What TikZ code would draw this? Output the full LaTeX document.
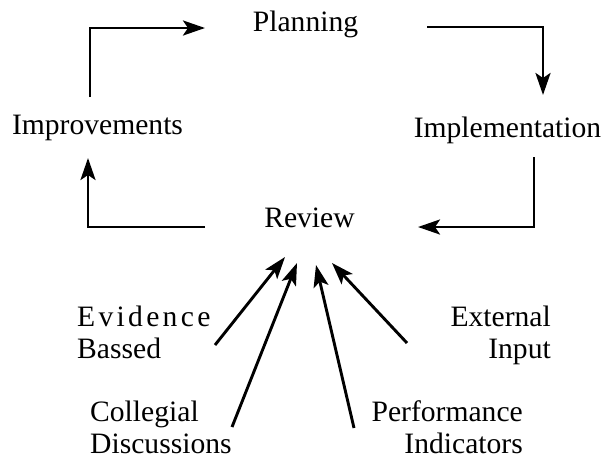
\documentclass[tikz,border=0pt]{standalone}
\usepackage{fontspec}
\setmainfont{Liberation Serif}
\usetikzlibrary{arrows.meta}

\tikzset{
  lbl/.style={font=\fontsize{29.6}{31.5}\selectfont, inner sep=0pt},
  flow/.style={line width=2.9pt, -{Stealth[length=22pt,width=15pt,inset=5pt]}}
}
\newcommand{\lsp}{\kern3.3pt}

\begin{document}
\begin{tikzpicture}[x=1pt,y=-1pt]
\useasboundingbox (0,0) rectangle (604,459);
% cycle stages
\node[lbl, anchor=base] (plan) at (305.5,31) {Planning};
\node[lbl, anchor=base] (impl) at (507.5,137) {Implementation};
\node[lbl, anchor=base] (rev) at (309.5,227) {Review};
\node[lbl, anchor=base] (impr) at (97.5,134) {Improvements};
% inputs to the review (base = last line)
\node[lbl, anchor=base west, align=left] (evid) at (77,358) {E\lsp v\lsp i\lsp d\lsp e\lsp n\lsp c\lsp e\\Bassed};
\node[lbl, anchor=base west, align=left] (coll) at (90,453) {Collegial\\Discussions};
\node[lbl, anchor=base east, align=right] (perf) at (523,453) {Performance\\Indicators};
\node[lbl, anchor=base east, align=right] (ext) at (551,358) {External\\Input};
% elbow arrows of the cycle
\coordinate (impr top) at (90,97);
\coordinate (plan in) at (205,28);
\coordinate (plan out) at (427,27);
\coordinate (impl in) at (543,95);
\coordinate (impl out) at (534,157);
\coordinate (rev in) at (418,227);
\coordinate (rev out) at (205,227);
\coordinate (impr in) at (88,158);
\draw[flow] (impr top) |- (plan in);
\draw[flow] (plan out) -| (impl in);
\draw[flow] (impl out) |- (rev in);
\draw[flow] (rev out) -| (impr in);
% arrows into the review
\coordinate (evid tail) at (215,345);
\coordinate (evid tip) at (285,257);
\coordinate (coll tail) at (232,427);
\coordinate (coll tip) at (297,263);
\coordinate (perf tail) at (354,428);
\coordinate (perf tip) at (316,265);
\coordinate (ext tail) at (407,343);
\coordinate (ext tip) at (332,263);
\draw[flow] (evid tail) -- (evid tip);
\draw[flow] (coll tail) -- (coll tip);
\draw[flow] (perf tail) -- (perf tip);
\draw[flow] (ext tail) -- (ext tip);
\end{tikzpicture}
\end{document}
